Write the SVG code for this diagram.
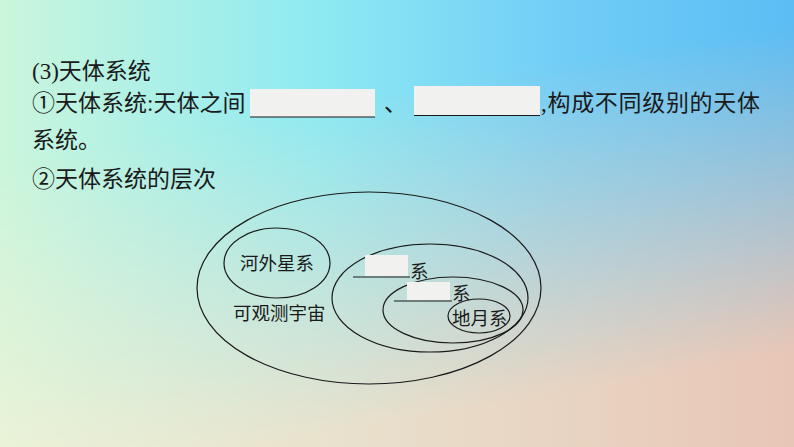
<svg xmlns="http://www.w3.org/2000/svg" width="794" height="447" viewBox="0 0 794 447">
<defs>
<linearGradient id="gTop" x1="0" y1="0" x2="1" y2="0">
<stop offset="0" stop-color="#cbf6dc"/>
<stop offset="0.4" stop-color="#8eeaf2"/>
<stop offset="0.7" stop-color="#72cef6"/>
<stop offset="1" stop-color="#5bbdf4"/>
</linearGradient>
<linearGradient id="gBot" x1="0" y1="0" x2="1" y2="0">
<stop offset="0" stop-color="#eef2d6"/>
<stop offset="0.45" stop-color="#e8e0cc"/>
<stop offset="1" stop-color="#e8c6b6"/>
</linearGradient>
<linearGradient id="gMask" x1="0" y1="0" x2="0.3" y2="1">
<stop offset="0.32" stop-color="#000"/>
<stop offset="1" stop-color="#fff"/>
</linearGradient>
<mask id="m"><rect width="794" height="447" fill="url(#gMask)"/></mask>
<style>
.t{font-family:"Liberation Serif","Noto Sans CJK SC",serif;font-size:23px;fill:#1a1a1a}
.d{font-family:"Noto Sans CJK SC","Liberation Sans",sans-serif;font-size:18.5px;fill:#1a1a1a}
.e{fill:none;stroke:#1a1a1a;stroke-width:1.2}
.blank{fill:#f1f1f0}
.ul{stroke:#1a1a1a;stroke-width:1.2}
</style>
</defs>
<rect width="794" height="447" fill="url(#gTop)"/>
<rect width="794" height="447" fill="url(#gBot)" mask="url(#m)"/>

<g id="text">
<text class="t" x="32" y="79">(3)天体系统</text>
<text class="t" x="32" y="111">①天体系统:天体之间</text>
<rect class="blank" x="250" y="89" width="125" height="28"/>
<line class="ul" x1="250" y1="117" x2="375" y2="117"/>
<text class="t" x="384" y="111">、</text>
<rect class="blank" x="414" y="86" width="126" height="29"/>
<line class="ul" x1="414" y1="115.5" x2="540" y2="115.5" stroke="#3a4a5a"/>
<text class="t" x="541" y="111" textLength="219">,构成不同级别的天体</text>
<text class="t" x="32" y="148">系统。</text>
<text class="t" x="32" y="187">②天体系统的层次</text>
</g>

<g id="connectors"></g>

<g id="observable-universe">
<ellipse class="e" cx="369" cy="288" rx="172" ry="96"/>
<text class="d" x="233" y="320">可观测宇宙</text>
</g>
<g id="extragalactic">
<ellipse class="e" cx="277" cy="263" rx="53" ry="35"/>
<text class="d" x="240" y="270">河外星系</text>
</g>
<g id="system1">
<ellipse class="e" cx="430" cy="298" rx="98" ry="54"/>
<rect class="blank" x="365" y="255" width="43" height="21"/>
<line class="ul" x1="353" y1="277" x2="410" y2="277"/>
<text class="d" x="410" y="278">系</text>
</g>
<g id="system2">
<ellipse class="e" cx="453" cy="310" rx="70" ry="33"/>
<rect class="blank" x="407" y="282" width="43" height="18"/>
<line class="ul" x1="394" y1="301" x2="452" y2="301"/>
<text class="d" x="452" y="300">系</text>
</g>
<g id="earth-moon">
<ellipse class="e" cx="479" cy="316" rx="31" ry="17"/>
<text class="d" x="452" y="325">地月系</text>
</g>
</svg>
